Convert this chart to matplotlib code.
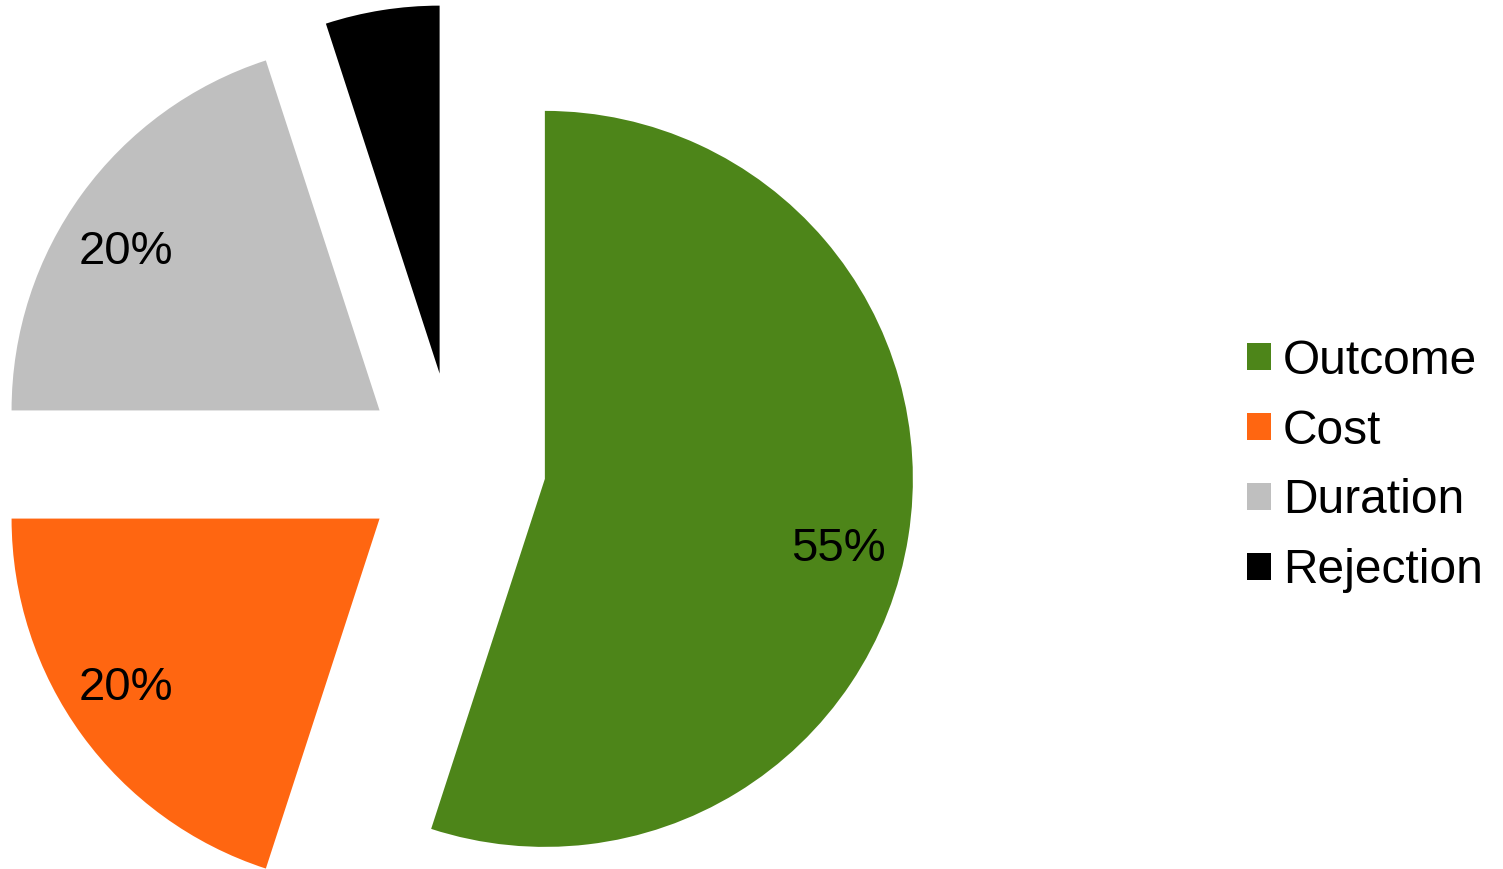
import matplotlib.pyplot as plt
from matplotlib.patches import Patch

plt.rcParams['font.family'] = ['Liberation Sans', 'DejaVu Sans']

# data
categories = ['Outcome', 'Cost', 'Duration', 'Rejection']
shares = [55, 20, 20, 5]
colors = ['#4D8519', '#FF6611', '#BFBFBF', '#000000']


def pct_label(p):
    # the small slice carries no label
    return '' if p < 10 else '%d%%' % round(p)


fig = plt.figure(figsize=(15.03, 8.69), dpi=100)
ax = fig.add_axes([0, 0, 1, 1])

wedges, texts, autotexts = ax.pie(
    shares, colors=colors, startangle=90, counterclock=False,
    explode=[0.25] * len(shares), autopct=pct_label, pctdistance=0.8,
    textprops={'fontsize': 34, 'color': 'black'})

# small nudges so the labels sit where the spreadsheet put them
nudges = [(0.008, -0.065), (-0.043, 0.011), (-0.043, -0.041), (0, 0)]
for t, (dx, dy) in zip(autotexts, nudges):
    x, y = t.get_position()
    t.set_position((x + dx, y + dy))

# pie radius = 1 -> 368 px, pie centre at pixel (454, 464.5)
ax.set_xlim(-454 / 368, (1503 - 454) / 368)
ax.set_ylim(-(869 - 464.5) / 368, 464.5 / 368)
ax.axis('off')

handles = [Patch(facecolor=c, edgecolor='none') for c in colors]
fig.legend(handles, categories, loc='center left',
           bbox_to_anchor=(1247 / 1503, 1 - 466 / 869),
           frameon=False, fontsize=34.5, handlelength=0.5, handleheight=0.5,
           handletextpad=0.25, labelspacing=0.52, borderpad=0,
           borderaxespad=0)

fig.savefig('out.png', dpi=100)
